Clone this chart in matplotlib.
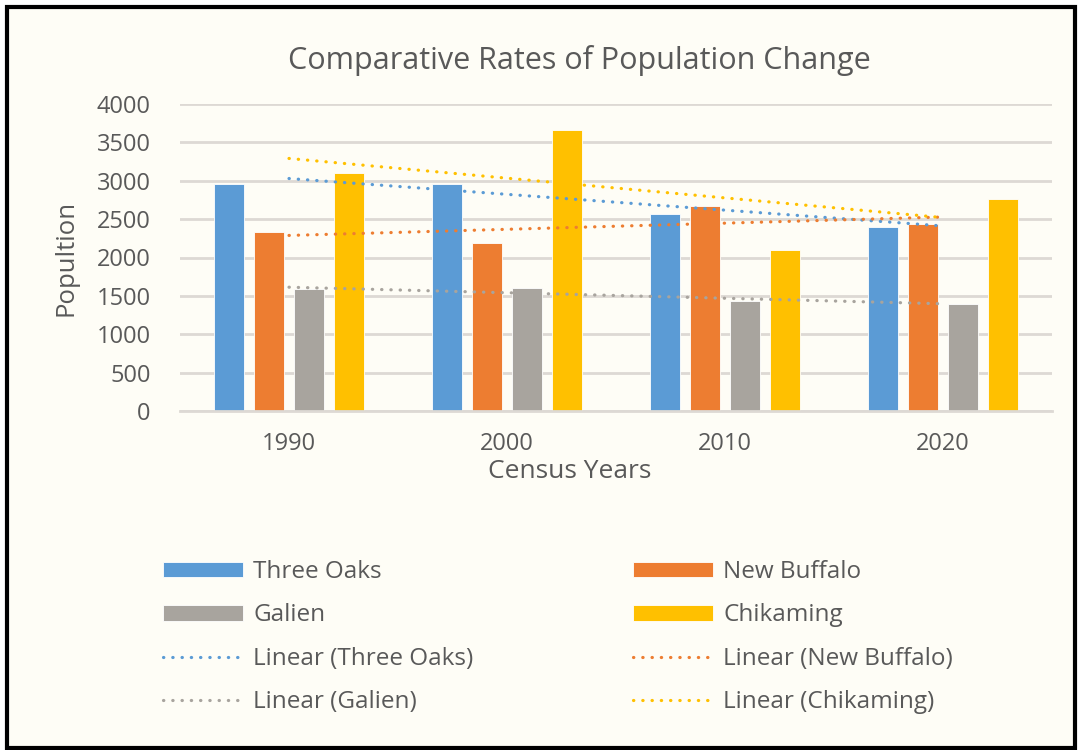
import numpy as np
import matplotlib
matplotlib.use("Agg")
from matplotlib import pyplot as plt
from matplotlib.patches import Rectangle

plt.rcParams['font.family'] = ['Open Sans', 'DejaVu Sans']

# data
years = ['1990', '2000', '2010', '2020']
three_oaks = [2955, 2960, 2565, 2400]
new_buffalo = [2330, 2190, 2675, 2435]
galien = [1585, 1600, 1435, 1400]
chikaming = [3100, 3660, 2095, 2765]

names = ['Three Oaks', 'New Buffalo', 'Galien', 'Chikaming']
colors = ['#5B9BD5', '#ED7D31', '#A8A49E', '#FFC000']
series = [three_oaks, new_buffalo, galien, chikaming]

txt = '#595959'
bg = '#FEFDF6'
grid = '#DDD9D4'

fig = plt.figure(figsize=(10.78, 7.5), dpi=100, facecolor='white')
# cream panel with black border
fig.patches.append(Rectangle((7 / 1078, 2 / 750), 1068 / 1078, 741 / 750,
                             transform=fig.transFigure, facecolor=bg,
                             edgecolor='black', lw=3, zorder=-5))

ax = fig.add_axes([180 / 1078, 1 - 411 / 750, 872 / 1078, 307 / 750])
ax.set_facecolor('none')
ax.set_zorder(1)

x = np.arange(len(years))
step = 0.1835
width = 0.1376
bars = []
trends = []
for i, (name, vals, c) in enumerate(zip(names, series, colors)):
    b = ax.bar(x + (i - 1.5) * step, vals, width, color=c,
               edgecolor='white', linewidth=0.6, zorder=2, label=name)
    bars.append(b)

# linear trendlines, like excel's
for name, vals, c in zip(names, series, colors):
    k, m = np.polyfit(x, vals, 1)
    ln, = ax.plot(x, k * x + m, color=c, lw=2.3, linestyle=(0, (0.1, 2.8)),
                  dash_capstyle='round', zorder=3, label='Linear (%s)' % name)
    trends.append(ln)

ax.set_xlim(-0.5, 3.5)
ax.set_ylim(0, 4000)
ax.set_yticks(np.arange(0, 4001, 500))
ax.set_xticks(x)
ax.set_xticklabels(years)
ax.yaxis.grid(True, color=grid, lw=2, zorder=0)
ax.set_axisbelow(True)
for s in ['top', 'right', 'left']:
    ax.spines[s].set_visible(False)
ax.spines['bottom'].set_color(grid)
ax.spines['bottom'].set_linewidth(2)
ax.tick_params(length=0, labelsize=17, labelcolor=txt)
ax.tick_params(axis='y', pad=21)
ax.tick_params(axis='x', pad=15)

ax.set_ylabel('Popultion', fontsize=18.5, color=txt)
ax.yaxis.set_label_coords(-0.116, 0.5)
ax.set_xlabel('Census Years', fontsize=19, color=txt)
ax.xaxis.set_label_coords(0.447, -0.155)

fig.text(579 / 1078, 1 - 61 / 750, 'Comparative Rates of Population Change',
         ha='center', va='center', fontsize=22, color=txt)

# legend in two columns drawn as two legends
col1 = [bars[0], bars[2], trends[0], trends[2]]
col2 = [bars[1], bars[3], trends[1], trends[3]]
for hs, xp in [(col1, 163), (col2, 633)]:
    leg = fig.legend(hs, [h.get_label() for h in hs], loc='upper left',
                     bbox_to_anchor=(xp / 1078, 1 - 560 / 750),
                     frameon=False, fontsize=17.5, borderpad=0, borderaxespad=0,
                     handlelength=3.3, handleheight=0.6, handletextpad=0.41,
                     labelspacing=0.8, labelcolor=txt)

fig.savefig('out.png', dpi=100, facecolor='white')
